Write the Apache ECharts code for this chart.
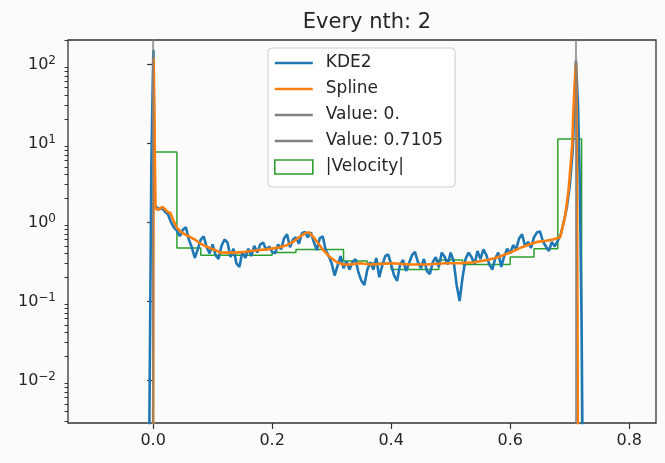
<!DOCTYPE html>
<html>
<head>
<meta charset="utf-8">
<script src="https://cdn.jsdelivr.net/npm/echarts@6/dist/echarts.min.js"></script>
<style>
html,body{margin:0;padding:0;background:#fbfbfb;}
#chart{width:665px;height:463px;}
</style>
</head>
<body>
<div id="chart"></div>
<script>
// ---------- data ----------
const chartTitle = 'Every nth: 2';
const xTickVals = [0, 0.2, 0.4, 0.6, 0.8];
const xTickLabels = ['0.0', '0.2', '0.4', '0.6', '0.8'];
const yTickVals = [0.01, 0.1, 1, 10, 100];
const yTickBase = '10';
const yTickExps = ['\u22122', '\u22121', '0', '1', '2'];
const yMinorVals = [0.003,0.004,0.005,0.006,0.007,0.008,0.009,
  0.02,0.03,0.04,0.05,0.06,0.07,0.08,0.09,
  0.2,0.3,0.4,0.5,0.6,0.7,0.8,0.9,
  2,3,4,5,6,7,8,9,
  20,30,40,50,60,70,80,90,
  200];
const xRange = [-0.143, 0.845];
const yRange = [0.00286, 201];

const valueLines = [0, 0.7105];
const valueNames = ['Value: 0.', 'Value: 0.7105'];

// |Velocity| histogram (bin edges and heights)
const binEdges = [0,0.04,0.08,0.12,0.16,0.20,0.24,0.28,0.32,0.36,0.40,0.44,0.48,0.52,0.56,0.60,0.64,0.68,0.72];
const binHeights = [7.7,0.47,0.38,0.38,0.38,0.41,0.45,0.45,0.32,0.30,0.25,0.25,0.33,0.29,0.29,0.36,0.46,11.2];

// KDE2 (x, y)
const kdeX = [-0.007,-0.003,-0.001,0.0005,0.003,
  0.005,0.010,0.015,0.020,0.025,0.030,0.035,0.040,0.045,0.050,0.055,0.060,0.065,0.070,0.075,
  0.080,0.085,0.090,0.095,0.100,0.105,0.110,0.115,0.120,0.125,0.130,0.135,0.140,0.145,0.150,
  0.155,0.160,0.165,0.170,0.175,0.180,0.185,0.190,0.195,0.200,0.205,0.210,0.215,0.220,0.225,
  0.230,0.235,0.240,0.245,0.250,0.255,0.260,0.265,0.270,0.275,0.280,0.285,0.290,0.295,0.300,
  0.305,0.310,0.315,0.320,0.325,0.330,0.335,0.340,0.345,0.350,0.355,0.360,0.365,0.370,0.375,
  0.380,0.385,0.390,0.395,0.400,0.405,0.410,0.415,0.420,0.425,0.430,0.435,0.440,0.445,0.450,
  0.455,0.460,0.465,0.470,0.475,0.480,0.485,0.490,0.495,0.500,0.505,0.510,0.515,0.520,0.525,
  0.530,0.535,0.540,0.545,0.550,0.555,0.560,0.565,0.570,0.575,0.580,0.585,0.590,0.595,0.600,
  0.605,0.610,0.615,0.620,0.625,0.630,0.635,0.640,0.645,0.650,0.655,0.660,0.665,0.670,0.675,
  0.680,0.685,0.690,0.695,0.700,0.705,0.708,0.7105,0.714,0.717,0.720,0.722];
const kdeY = [0.0005,5,40,150,1.6,
  1.55,1.45,1.5,1.35,1.25,1.0,0.85,0.78,0.66,0.8,0.86,0.6,0.48,0.35,0.45,
  0.6,0.66,0.48,0.4,0.52,0.38,0.34,0.5,0.6,0.55,0.36,0.46,0.3,0.27,0.42,
  0.35,0.46,0.37,0.5,0.41,0.52,0.55,0.44,0.49,0.42,0.4,0.52,0.45,0.62,0.7,
  0.48,0.6,0.64,0.53,0.72,0.75,0.64,0.74,0.56,0.44,0.62,0.66,0.44,0.37,0.3,
  0.21,0.28,0.37,0.26,0.32,0.25,0.31,0.34,0.23,0.18,0.16,0.25,0.31,0.25,0.35,
  0.2,0.28,0.37,0.39,0.29,0.21,0.18,0.29,0.33,0.24,0.3,0.38,0.42,0.31,0.26,
  0.34,0.24,0.22,0.31,0.36,0.27,0.41,0.36,0.29,0.41,0.32,0.16,0.1,0.2,0.34,
  0.41,0.36,0.29,0.43,0.34,0.45,0.38,0.29,0.25,0.35,0.41,0.27,0.37,0.46,0.4,
  0.51,0.45,0.62,0.7,0.49,0.56,0.47,0.64,0.74,0.76,0.57,0.49,0.43,0.56,0.49,
  0.58,0.7,1.0,1.5,2.8,8,30,110,30,3,0.05,0.0005];

// Spline (x, y)
const splineX = [0.0,0.001,0.004,0.008,0.012,0.016,0.020,0.024,0.029,0.034,0.040,0.048,0.056,0.062,
  0.070,0.077,0.084,0.095,0.105,0.113,0.125,0.141,0.155,0.175,0.190,0.208,0.222,0.235,0.245,0.255,
  0.262,0.269,0.278,0.286,0.297,0.309,0.320,0.331,0.348,0.365,0.403,0.430,0.460,0.490,0.516,0.540,
  0.561,0.575,0.588,0.603,0.617,0.632,0.645,0.660,0.672,0.684,0.692,0.698,0.704,0.706,0.708,0.7105,
  0.712,0.714];
const splineY = [0.0005,120,1.5,1.42,1.5,1.55,1.45,1.35,1.3,1.05,0.84,0.74,0.68,0.65,
  0.6,0.55,0.51,0.47,0.44,0.41,0.41,0.41,0.42,0.44,0.45,0.47,0.5,0.56,0.64,0.72,
  0.74,0.65,0.53,0.44,0.36,0.31,0.29,0.29,0.30,0.29,0.30,0.29,0.29,0.30,0.30,0.31,
  0.33,0.35,0.38,0.42,0.47,0.52,0.56,0.58,0.6,0.64,1.16,2.5,8.9,24,50,105,
  12,0.0005];

// ---------- build ----------
const FONT = 'DejaVu Sans';
const zip = (xs, ys) => xs.map((x, i) => [x, ys[i]]);
const histData = [[binEdges[0], 1e-5]];
binHeights.forEach((h, i) => { histData.push([binEdges[i], h]); histData.push([binEdges[i + 1], h]); });
histData.push([binEdges[binEdges.length - 1], 1e-5]);

const lineIcon = 'path://M0,0L38,0L38,2.6L0,2.6Z';
const blue = '#1f77b4', orange = '#ff7f0e', gray = '#7f7f7f', green = '#2ca02c';
const txt = '#262626';

const chart = echarts.init(document.getElementById('chart'), null, {renderer: 'canvas'});
chart.setOption({
  backgroundColor: '#fbfbfb',
  animation: false,
  title: {
    text: chartTitle, left: 362, top: 7, textAlign: 'center',
    textStyle: {fontFamily: FONT, fontSize: 21, fontWeight: 'normal', color: txt}
  },
  grid: {left: 68, right: 9, top: 40, bottom: 40, show: true, borderColor: '#333', borderWidth: 1.3, backgroundColor: 'transparent'},
  legend: {
    orient: 'vertical', left: 268, top: 48,
    padding: [6, 12, 11, 6],
    itemWidth: 38, itemHeight: 14, itemGap: 8,
    symbolKeepAspect: true,
    backgroundColor: 'rgba(255,255,255,0.85)', borderColor: '#cccccc', borderWidth: 1, borderRadius: 4,
    textStyle: {fontFamily: FONT, fontSize: 17, color: txt, lineHeight: 18, padding: [0, 0, 0, 8]},
    data: [
      {name: 'KDE2', icon: lineIcon, itemStyle: {color: blue, borderWidth: 0}},
      {name: 'Spline', icon: lineIcon, itemStyle: {color: orange, borderWidth: 0}},
      {name: valueNames[0], icon: lineIcon, itemStyle: {color: gray, borderWidth: 0}},
      {name: valueNames[1], icon: lineIcon, itemStyle: {color: gray, borderWidth: 0}},
      {name: '|Velocity|', icon: 'rect', itemStyle: {color: 'rgba(0,0,0,0)', borderColor: green, borderWidth: 1.6}}
    ]
  },
  xAxis: {
    type: 'value', min: xRange[0], max: xRange[1],
    axisLine: {show: false}, splitLine: {show: false},
    axisTick: {show: true, length: 6, customValues: xTickVals, lineStyle: {color: '#333', width: 1.2}},
    axisLabel: {customValues: xTickVals, margin: 10, fontFamily: FONT, fontSize: 16, color: txt,
      formatter: v => xTickLabels[xTickVals.findIndex(t => Math.abs(t - v) < 1e-9)] || ''}
  },
  yAxis: [{
    type: 'log', logBase: 10, min: yRange[0], max: yRange[1],
    axisLine: {show: false}, splitLine: {show: false},
    axisTick: {show: true, length: 6, customValues: yTickVals, lineStyle: {color: '#333', width: 1.2}},
    axisLabel: {customValues: yTickVals, margin: 12, color: txt,
      formatter: v => { for (let i = 0; i < yTickVals.length; i++) { if (Math.abs(Math.log10(v) - Math.log10(yTickVals[i])) < 1e-6) return '{b|' + yTickBase + '}{s|' + yTickExps[i] + '}'; } return ''; },
      rich: {
        b: {fontFamily: FONT, fontSize: 16, color: txt, lineHeight: 18, verticalAlign: 'bottom'},
        s: {fontFamily: FONT, fontSize: 12, color: txt, lineHeight: 12, verticalAlign: 'top'}
      }}
  }, {
    type: 'log', logBase: 10, min: yRange[0], max: yRange[1], position: 'left', offset: 0,
    axisLine: {show: false}, splitLine: {show: false}, axisLabel: {show: false},
    axisTick: {show: true, length: 3.5, customValues: yMinorVals, lineStyle: {color: '#333', width: 1}}
  }],
  series: [
    {name: 'KDE2', type: 'line', data: zip(kdeX, kdeY), showSymbol: false, symbol: 'none', clip: true, z: 3,
      lineStyle: {color: blue, width: 2.6}, itemStyle: {color: blue}},
    {name: 'Spline', type: 'line', data: zip(splineX, splineY), showSymbol: false, symbol: 'none', clip: true, z: 4,
      lineStyle: {color: orange, width: 2.6}, itemStyle: {color: orange}},
    {name: valueNames[0], type: 'line', data: [[valueLines[0], 1e-5], [valueLines[0], 1e5]], symbol: 'none', clip: true, z: 5,
      lineStyle: {color: gray, width: 2, opacity: 0.75}, itemStyle: {color: gray}},
    {name: valueNames[1], type: 'line', data: [[valueLines[1], 1e-5], [valueLines[1], 1e5]], symbol: 'none', clip: true, z: 5,
      lineStyle: {color: gray, width: 2, opacity: 0.75}, itemStyle: {color: gray}},
    {name: '|Velocity|', type: 'line', data: histData, symbol: 'none', clip: true, z: 2,
      lineStyle: {color: green, width: 1.5}, itemStyle: {color: green}}
  ]
});
</script>
</body>
</html>
